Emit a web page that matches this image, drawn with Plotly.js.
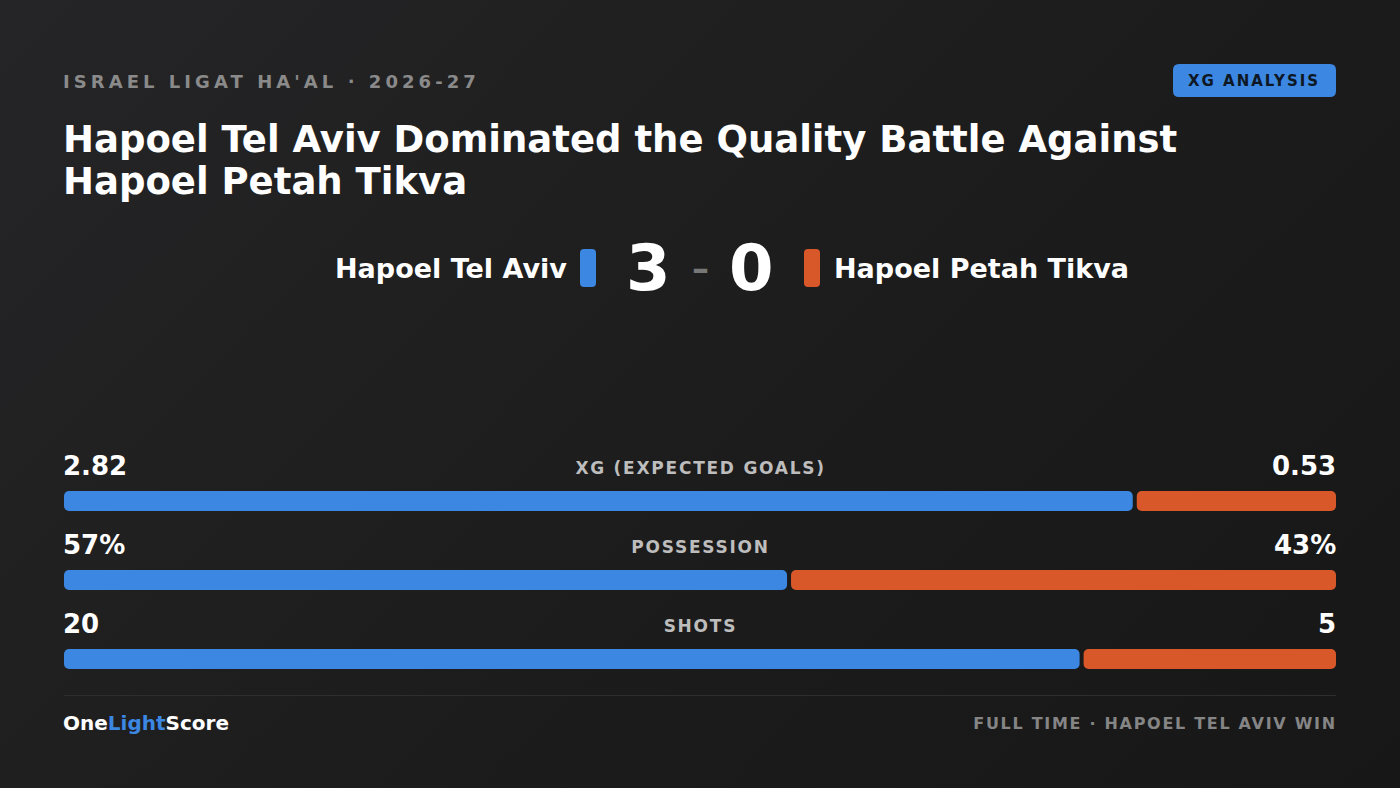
<!DOCTYPE html>
<html>
<head>
<meta charset="utf-8">
<script src="https://cdn.plot.ly/plotly-3.0.1.min.js"></script>
<style>
  html, body { margin:0; padding:0; width:1400px; height:788px; overflow:hidden;
    background: linear-gradient(135deg, #252527 0%, #1c1c1c 55%, #171717 100%); }
  #chart { width:1400px; height:788px; }
</style>
</head>
<body>
<div id="chart"></div>
<script>
// ---- data ----
const leagueLabel = "ISRAEL LIGAT HA'AL · 2026-27";
const badgeLabel = "XG ANALYSIS";
const titleLines = ["Hapoel Tel Aviv Dominated the Quality Battle Against", "Hapoel Petah Tikva"];
const homeTeam = "Hapoel Tel Aviv";
const awayTeam = "Hapoel Petah Tikva";
const homeGoals = 3;
const awayGoals = 0;
const categories = ["XG (EXPECTED GOALS)", "POSSESSION", "SHOTS"];
const homeValues = [2.82, 57, 20];
const awayValues = [0.53, 43, 5];
const homeLabels = ["2.82", "57%", "20"];
const awayLabels = ["0.53", "43%", "5"];
const footerRight = "FULL TIME · HAPOEL TEL AVIV WIN";

// ---- style ----
const BLUE = "#3b87e1";
const ORANGE = "#d9582a";
const W = 1400, H = 788;
const px = x => x / W;
const py = y => 1 - y / H;
const FONT = "DejaVu Sans, sans-serif";
const PAD = 3; // annotation inner padding in px

const x0 = 64, x1 = 1336;
const gap = 2 / (x1 - x0);
const rowCenters = [501, 580, 659];
const rowStep = 79;
const domTop = 460, domBot = 700;
const yRange = [2 + (domBot - rowCenters[2]) / rowStep, -(rowCenters[0] - domTop) / rowStep];
const barW = 20 / rowStep;

const ys = categories.map((c, i) => i);
const shares = homeValues.map((v, i) => v / (v + awayValues[i]));

function halfTraces(starts, ends, color) {
  const lens = ends.map((e, i) => e - starts[i]);
  const common = { type: 'bar', orientation: 'h', y: ys, width: ys.map(() => barW), opacity: 1,
    marker: { color: color, opacity: 1, cornerradius: 5, line: { width: 0 } }, hoverinfo: 'skip', showlegend: false };
  return [
    Object.assign({}, common, { base: starts.map((s, i) => s + lens[i] * 0.6), x: lens.map(l => -l * 0.6) }),
    Object.assign({}, common, { base: starts.map((s, i) => s + lens[i] * 0.4), x: lens.map(l => l * 0.6) })
  ];
}

const traces = [
  ...halfTraces(shares.map(() => 0), shares.map(s => s - gap), BLUE),
  ...halfTraces(shares.map(s => s + gap), shares.map(() => 1), ORANGE)
];

const ann = [];
const spacing = {};
function addAnn(o, ls) {
  const a = Object.assign({ xref: 'paper', yref: 'paper', showarrow: false }, o);
  if (a.xanchor === 'left') a.x -= PAD / W;
  if (a.xanchor === 'right') a.x += PAD / W;
  ann.push(a);
  if (ls) spacing[ann.length - 1] = { ls: ls, anchor: a.xanchor };
}

addAnn({ x: px(64), y: py(81), xanchor: 'left', yanchor: 'middle', text: leagueLabel,
  font: { family: FONT, size: 18, color: '#8a8a8a', weight: 700 } }, 4.05);
addAnn({ x: px(1254), y: py(81), xanchor: 'center', yanchor: 'middle', text: badgeLabel,
  font: { family: FONT, size: 15, color: '#0e1724', weight: 700 } }, 2);
addAnn({ x: px(64), y: py(140), xanchor: 'left', yanchor: 'middle', text: titleLines[0],
  font: { family: FONT, size: 37, color: '#ffffff', weight: 700 } });
addAnn({ x: px(64), y: py(182), xanchor: 'left', yanchor: 'middle', text: titleLines[1],
  font: { family: FONT, size: 37, color: '#ffffff', weight: 700 } });

addAnn({ x: px(566), y: py(268), xanchor: 'right', yanchor: 'middle', text: homeTeam,
  font: { family: FONT, size: 27, color: '#ffffff', weight: 700 } });
addAnn({ x: px(835), y: py(268), xanchor: 'left', yanchor: 'middle', text: awayTeam,
  font: { family: FONT, size: 27, color: '#ffffff', weight: 700 } });
addAnn({ x: px(648), y: py(268), xanchor: 'center', yanchor: 'middle', text: String(homeGoals),
  font: { family: FONT, size: 64, color: '#ffffff', weight: 700 } });
addAnn({ x: px(751), y: py(268), xanchor: 'center', yanchor: 'middle', text: String(awayGoals),
  font: { family: FONT, size: 64, color: '#ffffff', weight: 700 } });
addAnn({ x: px(700), y: py(268), xanchor: 'center', yanchor: 'middle', text: '–',
  font: { family: FONT, size: 34, color: '#777777', weight: 700 } });

categories.forEach((c, i) => {
  const labY = rowCenters[i] - 35;
  addAnn({ x: px(64), y: py(labY), xanchor: 'left', yanchor: 'middle', text: homeLabels[i],
    font: { family: FONT, size: 26, color: '#ffffff', weight: 700 } });
  addAnn({ x: px(1335), y: py(labY), xanchor: 'right', yanchor: 'middle', text: awayLabels[i],
    font: { family: FONT, size: 26, color: '#ffffff', weight: 700 } });
  addAnn({ x: px(700), y: py(labY + 2), xanchor: 'center', yanchor: 'middle', text: c,
    font: { family: FONT, size: 17, color: '#bdbdbd', weight: 700 } }, 1.75);
});

addAnn({ x: px(64), y: py(723), xanchor: 'left', yanchor: 'middle',
  text: 'One<span style="color:' + BLUE + '">Light</span>Score',
  font: { family: FONT, size: 20, color: '#ffffff', weight: 700 } });
addAnn({ x: px(1336), y: py(723), xanchor: 'right', yanchor: 'middle', text: footerRight,
  font: { family: FONT, size: 16, color: '#858585', weight: 700 } }, 1.7);

function roundRect(xa, ya, xb, yb, r) {
  const rx = r / W, ry = r / H;
  const L = px(xa), R = px(xb), T = py(ya), B = py(yb);
  return `M${L + rx},${T} L${R - rx},${T} Q${R},${T} ${R},${T - ry} L${R},${B + ry} Q${R},${B} ${R - rx},${B} ` +
         `L${L + rx},${B} Q${L},${B} ${L},${B + ry} L${L},${T - ry} Q${L},${T} ${L + rx},${T} Z`;
}

const shapes = [
  { type: 'path', xref: 'paper', yref: 'paper', path: roundRect(1173, 64, 1336, 97, 6), fillcolor: BLUE, line: { width: 0 }, layer: 'below' },
  { type: 'path', xref: 'paper', yref: 'paper', path: roundRect(580, 249, 596, 287, 4), fillcolor: BLUE, line: { width: 0 } },
  { type: 'path', xref: 'paper', yref: 'paper', path: roundRect(804, 249, 820, 287, 4), fillcolor: ORANGE, line: { width: 0 } },
  { type: 'line', xref: 'paper', yref: 'paper', x0: px(64), x1: px(1336), y0: py(695.5), y1: py(695.5), line: { color: '#2e2e2e', width: 1 } }
];

const layout = {
  width: W, height: H,
  margin: { l: 0, r: 0, t: 0, b: 0, pad: 0 },
  paper_bgcolor: 'rgba(0,0,0,0)', plot_bgcolor: 'rgba(0,0,0,0)',
  barmode: 'overlay', showlegend: false,
  xaxis: { domain: [px(x0), px(x1)], range: [0, 1], visible: false, fixedrange: true },
  yaxis: { domain: [py(domBot), py(domTop)], range: yRange, visible: false, fixedrange: true },
  annotations: ann, shapes: shapes,
  font: { family: FONT }
};

Plotly.newPlot('chart', traces, layout, { displayModeBar: false, staticPlot: true }).then(() => {
  Object.keys(spacing).forEach(i => {
    const info = spacing[i];
    document.querySelectorAll('.annotation[data-index="' + i + '"] text').forEach(t => {
      const before = t.getBBox();
      t.style.letterSpacing = info.ls + 'px';
      const after = t.getBBox();
      let dx = 0;
      if (info.anchor === 'left') dx = before.x - after.x;
      else if (info.anchor === 'right') dx = (before.x + before.width) - (after.x + after.width);
      else dx = (before.x + before.width / 2) - (after.x + after.width / 2);
      const cur = parseFloat(t.getAttribute('x') || '0');
      t.setAttribute('x', cur + dx);
      t.querySelectorAll('tspan[x]').forEach(s => s.setAttribute('x', parseFloat(s.getAttribute('x')) + dx));
    });
  });
});
</script>
</body>
</html>
